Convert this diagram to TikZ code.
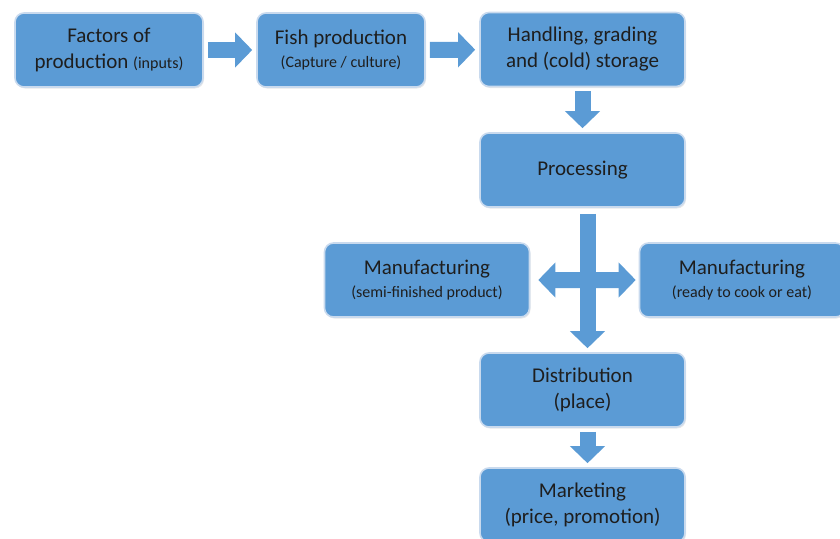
\documentclass[tikz,border=0pt]{standalone}
\usepackage{fontspec}
\setmainfont{Carlito}
\usepackage{tikz}
\usetikzlibrary{positioning,arrows.meta,calc,shadows}
\definecolor{boxblue}{HTML}{5B9BD5}
\definecolor{boxedge}{HTML}{C9DAEE}
\definecolor{txt}{HTML}{1E1E1E}
\tikzset{%
  b/.style = {rectangle,rounded corners=9pt,fill=boxblue,draw=boxedge,
        line width=1.6pt,minimum width=205pt,minimum height=74pt,
        text=txt,align=center,font=\fontsize{21}{26}\selectfont,
        drop shadow={opacity=0.18,shadow xshift=1pt,shadow yshift=-1.5pt}},
  barrow/.style = {draw=boxblue,line width=16pt,
        -{Triangle[length=17pt,width=34pt]},shorten <=4pt,shorten >=4pt}
}
\newcommand{\sm}[1]{{\fontsize{16}{19}\selectfont #1}}

\begin{document}
\begin{tikzpicture}[x=1pt,y=-1pt]
\clip (0,0) rectangle (840,538);
\node[b,minimum width=188pt] (fac) at (109,50) {Factors of\\production \sm{(inputs)}};
\node[b,minimum width=168pt] (fish) at (341,50) {Fish production\\[-3pt]\sm{(Capture / culture)}};
\node[b] (hand) at (582.5,49.5) {Handling, grading\\and (cold) storage};
\node[b] (proc) at (582.5,170) {Processing};
\node[b] (semi) at (427,280) {Manufacturing\\[-3pt]\sm{(semi-finished product)}};
\node[b] (ready) at (742,280) {Manufacturing\\[-3pt]\sm{(ready to cook or eat)}};
\node[b] (dist) at (582.5,390) {Distribution\\(place)};
\node[b] (mark) at (582.5,505) {Marketing\\(price, promotion)};

\coordinate (hub) at ($([xshift=5pt]proc.south)!0.5!([xshift=5pt]dist.north)$);

\draw[barrow] (fac) -- (fish);
\draw[barrow] (fish) -- (hand);
\draw[barrow] (hand) -- (proc);
\draw[barrow,shorten <=6pt] ([xshift=5pt]proc.south) -- ([xshift=5pt]dist.north);
\draw[barrow,shorten <=0pt,shorten >=8pt] (hub) -- (semi.east);
\draw[barrow,shorten <=0pt,shorten >=3pt] (hub) -- (ready.west);
\draw[barrow] ([xshift=5pt]dist.south) -- ([xshift=5pt]mark.north);
\end{tikzpicture}
\end{document}
